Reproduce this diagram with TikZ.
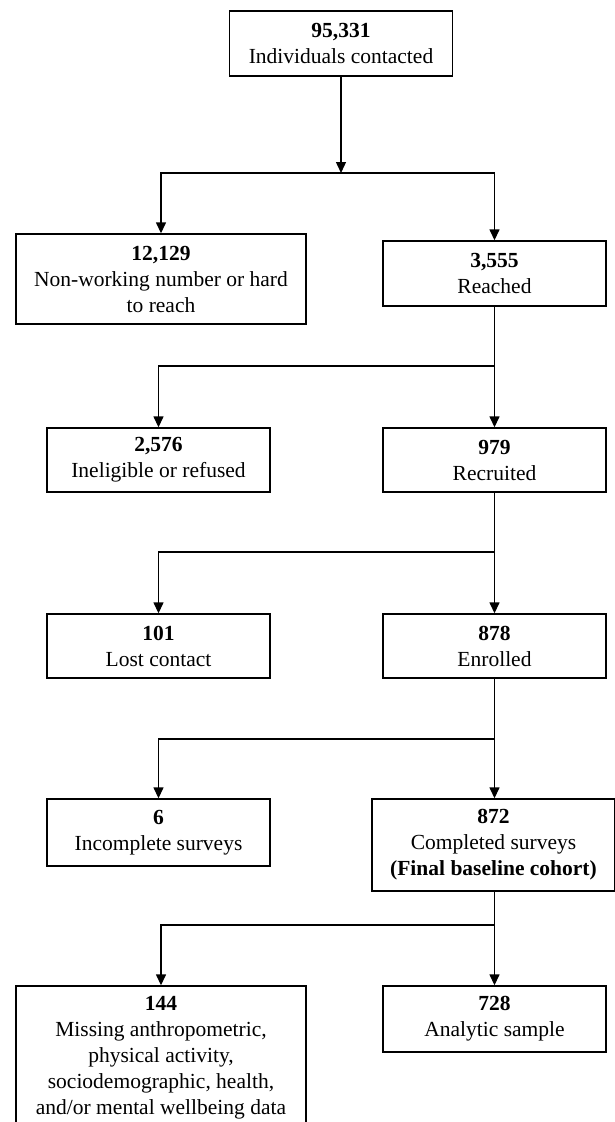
\documentclass[tikz,border=0pt]{standalone}
\usepackage{fontspec}
\setmainfont{Liberation Serif}
\usetikzlibrary{arrows.meta}
\tikzset{
  box/.style={draw=black, line width=1.4pt, fill=white, align=center, inner sep=0pt,
    font=\fontsize{21.5}{26}\selectfont, text=black},
  arr/.style={line width=1.4pt, -{Triangle[length=11pt,width=10pt]}},
  ln/.style={line width=1.4pt},
}
\begin{document}
\begin{tikzpicture}[x=1pt,y=-1pt]
\useasboundingbox (0,0) rectangle (615,1122);
\clip (0,0) rectangle (615,1122);
\fill[white] (0,0) rectangle (615,1122);
\node[box, minimum width=223pt, minimum height=65pt] (n1) at (341,43.5) {\textbf{95,331}\\Individuals contacted};
\node[box, minimum width=290pt, minimum height=90pt] (n2) at (161,279) {\textbf{12,129}\\Non-working number or hard\\to reach};
\node[box, minimum width=223pt, minimum height=65pt] (n3) at (494.5,273.5) {\textbf{3,555}\\Reached};
\node[box, minimum width=223pt, minimum height=64pt] (n4) at (158.5,460) {\textbf{2,576}\\Ineligible or refused};
\node[box, minimum width=223pt, minimum height=64pt] (n5) at (494.5,460) {\textbf{979}\\Recruited};
\node[box, minimum width=223pt, minimum height=64pt] (n6) at (158.5,646) {\textbf{101}\\Lost contact};
\node[box, minimum width=223pt, minimum height=64pt] (n7) at (494.5,646) {\textbf{878}\\Enrolled};
\node[box, minimum width=223pt, minimum height=67pt] (n8) at (158.5,832.5) {\textbf{6}\\Incomplete surveys};
\node[box, minimum width=243pt, minimum height=92pt] (n9) at (493.5,845) {\textbf{872}\\Completed surveys\\\textbf{(Final baseline cohort)}};
\node[box, minimum width=290pt, minimum height=144pt] (n10) at (161,1058) {\textbf{144}\\Missing anthropometric,\\physical activity,\\sociodemographic, health,\\and/or mental wellbeing data};
\node[box, minimum width=223pt, minimum height=66pt] (n11) at (494.5,1019) {\textbf{728}\\Analytic sample};

\coordinate (s1) at (341,173);
\coordinate (s2) at (494.5,366);
\coordinate (s3) at (494.5,552);
\coordinate (s4) at (494.5,739);
\coordinate (s5) at (494.5,925);

\draw[arr] (n1.south) -- (s1);
\draw[arr] (s1) -| (n2.north);
\draw[arr] (s1) -| (n3.north);

\draw[ln] (n3.south) -- (s2);
\draw[arr] (s2) -| (n4.north);
\draw[arr] (s2) -- (n5.north);

\draw[ln] (n5.south) -- (s3);
\draw[arr] (s3) -| (n6.north);
\draw[arr] (s3) -- (n7.north);

\draw[ln] (n7.south) -- (s4);
\draw[arr] (s4) -| (n8.north);
\draw[arr] (s4) -- (s4 |- n9.north);

\draw[ln] (s5 |- n9.south) -- (s5);
\draw[arr] (s5) -| (n10.north);
\draw[arr] (s5) -- (n11.north);
\end{tikzpicture}
\end{document}
